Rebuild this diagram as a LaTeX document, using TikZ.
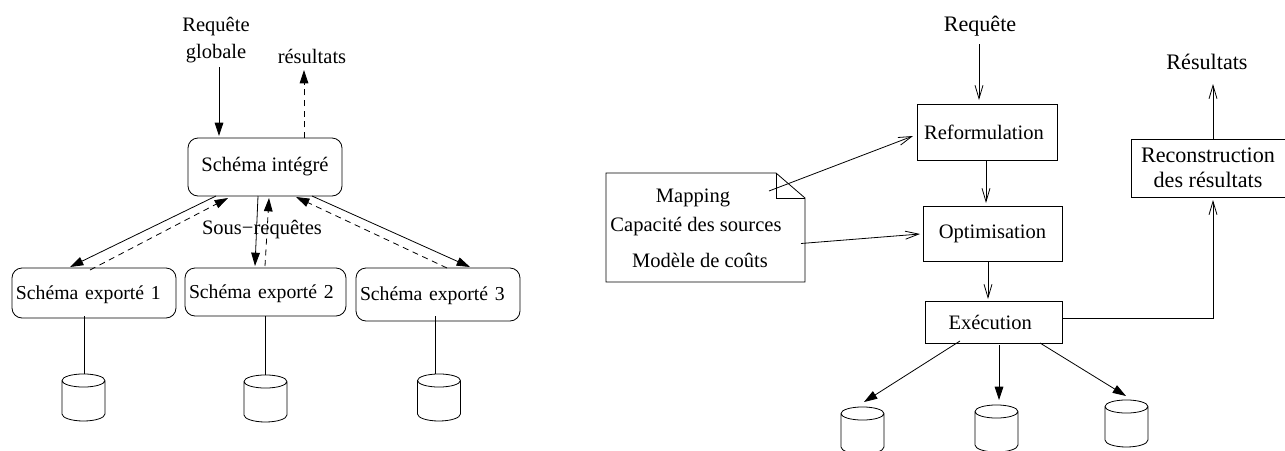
\documentclass[tikz,border=0pt]{standalone}
\usepackage{fontspec}
\setmainfont{Liberation Serif}
\usetikzlibrary{arrows.meta}
\begin{document}
\begin{tikzpicture}
[
 x=0.75pt, y=-0.75pt,
 line width=0.6pt,
 every node/.style ={font=\fontsize{15.4}{18.5}\selectfont, inner sep=0.5mm, outer sep=0pt},
 LABEL/.style={align=center},
 BIGTEXT/.style={font=\fontsize{16.6}{18.5}\selectfont},
 RBOX/.style 2 args={rectangle, rounded corners=7.5pt, draw=black, minimum width=#1*0.75pt, minimum height=#2*0.75pt},
 EBOX/.style 2 args={RBOX={#1}{#2}, font=\fontsize{14.8}{18.5}\selectfont, inner xsep=3pt, text width=#1*0.75pt-6pt, align=left, text depth=0pt},
 SBOX/.style 2 args={rectangle, draw=black, align=center, minimum width=#1*0.75pt, minimum height=#2*0.75pt},
 DISK/.style={rectangle, minimum width=32.25pt, minimum height=35.25pt, inner sep=0pt},
 FULL/.style={-{Stealth[length=10pt,width=6.5pt,inset=0pt]}},
 DASH/.style={FULL, dash pattern=on 4.5pt off 3.5pt},
 OPEN/.style={-{Straight Barb[length=10pt,width=6pt]}},
 ]
%
\useasboundingbox (0,0) rectangle (1285,450);
%
\node [LABEL]  (REQG)  at (216, 40)  {Requête\\[1.5pt]globale};
\node [LABEL]  (RESG)  at (312, 56)  {résultats};
\node [LABEL]  (SOUS)  at (262,230)  {Sous−requêtes};
%
\node [RBOX={154}{58}]  (INT)   at (265,167)    {Schéma intégré};
\node [EBOX={164}{50}]  (EXP1)  at ( 94,293)    {Schéma exporté 1};
\node [EBOX={161}{48}]  (EXP2)  at (265.5,292)  {Schéma exporté 2};
\node [EBOX={164}{53}, text depth=2pt]  (EXP3)  at (438,294.5)  {Schéma exporté 3};
%
\foreach \name/\x/\y in {CYL1/83.5/397.5, CYL2/265.5/398.5, CYL3/439/397.5,
                         CYL4/862.5/430.5, CYL5/996.5/428.5, CYL6/1126.5/423.5}
   {
     \node [DISK] (\name) at (\x,\y) {};
     \draw ([shift={(-21.5,-17)}]\name.center)
        arc [start angle=180, end angle=540, x radius=16.1pt, y radius=4.9pt]
        -- ++(0,33.5)
        arc [start angle=180, end angle=360, x radius=16.1pt, y radius=5.25pt]
        -- ++(0,-33.5);
   }
%
\draw [FULL]  ([shift={(3,27)}]REQG.center) -- ([shift={(-46,-2)}]INT.north);
\draw [DASH]  ([shift={(39,0)}]INT.north)   -- ([shift={(-8,14)}]RESG.center);
%
\draw [FULL]  ([shift={(-49,0)}]INT.south) -- ([shift={(-24,-1)}]EXP1.north);
\draw [DASH]  ([shift={(-4,2)}]EXP1.north) -- ([shift={(-37,2)}]INT.south);
\draw [FULL]  ([shift={(-7,0)}]INT.south)  -- ([shift={(-10.5,-2)}]EXP2.north);
\draw [DASH]  ([shift={(-0.5,-2)}]EXP2.north) -- ([shift={(4,2)}]INT.south);
\draw [FULL]  ([shift={(47,0)}]INT.south)  -- ([shift={(32,-1)}]EXP3.north);
\draw [DASH]  ([shift={(9,0)}]EXP3.north)  -- ([shift={(31,1)}]INT.south);
%
\draw  ([shift={(-10,-2)}]EXP1.south) -- ([shift={(0.5,-23.5)}]CYL1.center);
\draw  (EXP2.south)                   -- ([shift={(0,-23.5)}]CYL2.center);
\draw  ([shift={(-3,-5)}]EXP3.south)  -- ([shift={(-4,-23.5)}]CYL3.center);
%
\draw (606,173) -- (776,173) -- (805,198) -- (805,282) -- (606,282) -- cycle;
\draw (776,173) -- (776,198) -- (805,198);
\coordinate (DOCF) at (769,191);
\coordinate (DOCE) at (801,243.5);
\node [LABEL]  (MAP)  at (693,198)  {Mapping};
\node [LABEL]  (CAP)  at (696,227)  {Capacité des sources};
\node [LABEL]  (MOD)  at (700,260)  {Modèle de coûts};
%
\node [LABEL, BIGTEXT]  (REQR)  at (980, 26)  {Requête};
\node [LABEL, BIGTEXT]  (RESR)  at (1207,62)  {Résultats};
\node [SBOX={140}{56}]  (REF)  at (987,132)     {\hspace*{-4.5pt}Reformulation};
\node [SBOX={139}{55}]  (OPT)  at (992.5,233.5) {Optimisation};
\node [SBOX={137}{42}]  (EXE)  at (993.5,322)   {\hspace*{-5pt}Exécution};
\node [SBOX={154}{58}, BIGTEXT]  (REC)  at (1208,168)    {Reconstruction\\des résultats};
%
\draw [OPEN]  ([shift={(-1,18)}]REQR.center) -- ([shift={(-8,-4)}]REF.north);
\draw [OPEN]  (DOCF) -- ([shift={(-4,4)}]REF.west);
\draw [OPEN]  (DOCE) -- ([shift={(-3,0.5)}]OPT.west);
\draw [OPEN]  ([shift={(-1,0)}]REF.south)   -- ([shift={(-6.5,-3)}]OPT.north);
\draw [OPEN]  ([shift={(-4.5,0)}]OPT.south) -- ([shift={(-5.5,-2)}]EXE.north);
\draw [OPEN]  ([shift={(1,-4)}]EXE.east) -| ([shift={(5,3)}]REC.south);
\draw [OPEN]  ([shift={(5,0)}]REC.north) -- ([shift={(6,22)}]RESR.center);
%
\draw [FULL]  ([shift={(-33.5,-2)}]EXE.south) -- ([shift={(1.5,-28.5)}]CYL4.center);
\draw [FULL]  ([shift={(5.5,2)}]EXE.south)    -- ([shift={(2.5,-28.5)}]CYL5.center);
\draw [FULL]  ([shift={(46.5,0)}]EXE.south)   -- ([shift={(-0.5,-27.5)}]CYL6.center);
%
\end{tikzpicture}
\end{document}
